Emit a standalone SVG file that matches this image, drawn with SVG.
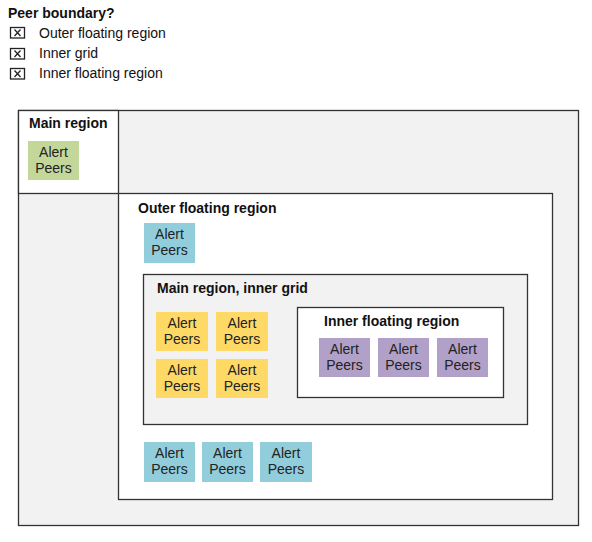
<svg xmlns="http://www.w3.org/2000/svg" width="592" height="542" viewBox="0 0 592 542">
<style>
text{font-family:"Liberation Sans",Arial,sans-serif;fill:#111}
.h{font-weight:bold;font-size:14px}
.lg{font-size:14px}
.frame{stroke:#333;stroke-width:1.3}
.ap{font-size:14px;text-anchor:middle;fill:#222}
.cb{fill:none;stroke:#222;stroke-width:1.3}
.g{fill:#c4d79b}.b{fill:#92cddc}.y{fill:#ffd966}.p{fill:#b1a0c7}
</style>
<rect width="592" height="542" fill="#fff"/>
<g id="legend">
<text class="h" x="8" y="17.5">Peer boundary?</text>
<g class="cb"><rect x="10.5" y="27.5" width="14" height="10.5"/><path d="M14.5 29.5L20.5 36M20.5 29.5L14.5 36"/></g>
<text class="lg" x="39" y="38">Outer floating region</text>
<g class="cb"><rect x="10.5" y="48.5" width="14" height="10.5"/><path d="M14.5 50.5L20.5 57M20.5 50.5L14.5 57"/></g>
<text class="lg" x="39" y="58">Inner grid</text>
<g class="cb"><rect x="10.5" y="68.5" width="14" height="10.5"/><path d="M14.5 70.5L20.5 77M20.5 70.5L14.5 77"/></g>
<text class="lg" x="39" y="78">Inner floating region</text>
</g>
<g id="main-region">
<rect class="frame" x="18.5" y="110.5" width="560" height="415" fill="#f2f2f2"/>
<rect class="frame" x="18.5" y="110.5" width="100" height="83" fill="#fff"/>
<text class="h" x="29" y="128">Main region</text>
<rect class="g" x="28" y="141" width="51" height="39"/>
<text class="ap" x="53.5" y="157">Alert</text><text class="ap" x="53.5" y="173">Peers</text>
</g>
<g id="outer-floating-region">
<rect class="frame" x="118.5" y="193.5" width="434" height="306" fill="#fff"/>
<text class="h" x="138" y="213">Outer floating region</text>
<rect class="b" x="144" y="223" width="51" height="40"/>
<text class="ap" x="169.5" y="239">Alert</text><text class="ap" x="169.5" y="255">Peers</text>
<rect class="b" x="144" y="442" width="51" height="40"/>
<text class="ap" x="169.5" y="458">Alert</text><text class="ap" x="169.5" y="474">Peers</text>
<rect class="b" x="202" y="442" width="51" height="40"/>
<text class="ap" x="227.5" y="458">Alert</text><text class="ap" x="227.5" y="474">Peers</text>
<rect class="b" x="260" y="442" width="52" height="40"/>
<text class="ap" x="286" y="458">Alert</text><text class="ap" x="286" y="474">Peers</text>
</g>
<g id="inner-grid">
<rect class="frame" x="143.5" y="274.5" width="384" height="150" fill="#f2f2f2"/>
<text class="h" x="157" y="293">Main region, inner grid</text>
<rect class="y" x="156" y="312" width="52" height="39"/>
<text class="ap" x="182" y="328">Alert</text><text class="ap" x="182" y="344">Peers</text>
<rect class="y" x="216" y="312" width="52" height="39"/>
<text class="ap" x="242" y="328">Alert</text><text class="ap" x="242" y="344">Peers</text>
<rect class="y" x="156" y="359" width="52" height="39"/>
<text class="ap" x="182" y="375">Alert</text><text class="ap" x="182" y="391">Peers</text>
<rect class="y" x="216" y="359" width="52" height="39"/>
<text class="ap" x="242" y="375">Alert</text><text class="ap" x="242" y="391">Peers</text>
</g>
<g id="inner-floating-region">
<rect class="frame" x="297.5" y="307.5" width="206" height="90" fill="#fff"/>
<text class="h" x="324" y="326">Inner floating region</text>
<rect class="p" x="319" y="338" width="51" height="39"/>
<text class="ap" x="344.5" y="354">Alert</text><text class="ap" x="344.5" y="370">Peers</text>
<rect class="p" x="378" y="338" width="51" height="39"/>
<text class="ap" x="403.5" y="354">Alert</text><text class="ap" x="403.5" y="370">Peers</text>
<rect class="p" x="437" y="338" width="51" height="39"/>
<text class="ap" x="462.5" y="354">Alert</text><text class="ap" x="462.5" y="370">Peers</text>
</g>
<g id="connectors"/>
</svg>
